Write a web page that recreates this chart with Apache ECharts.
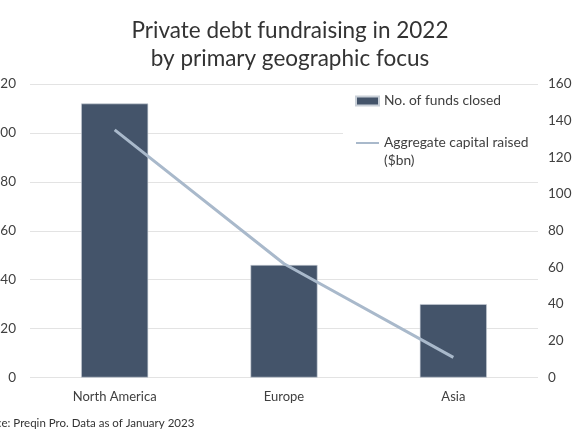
<!DOCTYPE html>
<html>
<head>
<meta charset="utf-8">
<script src="https://cdn.jsdelivr.net/npm/echarts@6/dist/echarts.min.js"></script>
<style>html,body{margin:0;padding:0;background:#fff;}#c{width:580px;height:435px;}</style>
</head>
<body>
<div id="c"></div>
<script>
var categories = ['North America', 'Europe', 'Asia'];
var fundsClosed = [112, 46, 30];
var capitalRaised = [135, 62, 11];
var leftTicks = [0, 20, 40, 60, 80, 100, 120];
var rightTicks = [0, 20, 40, 60, 80, 100, 120, 140, 160];
var titleLines = ['Private debt fundraising in 2022', 'by primary geographic focus'];
var sourceText = 'Source: Preqin Pro. Data as of January 2023';
var seriesNames = ['No. of funds closed', 'Aggregate capital raised\n($bn)'];

var FONT = 'Lato, "Noto Sans", sans-serif';
var chart = echarts.init(document.getElementById('c'), null, {renderer: 'canvas'});
chart.setOption({
  animation: false,
  backgroundColor: '#ffffff',
  title: {
    text: titleLines.join('\n'),
    left: 'center',
    top: 12,
    textStyle: {fontFamily: FONT, fontSize: 22.5, fontWeight: 'normal', color: '#333333', lineHeight: 28}
  },
  graphic: [{
    type: 'text',
    left: -27,
    top: 417,
    style: {text: sourceText, fontFamily: FONT, fontSize: 11.5, fill: '#333333'}
  }],
  legend: {
    orient: 'vertical',
    left: 343,
    top: 87,
    backgroundColor: '#ffffff',
    padding: [5, 20, 6, 12],
    itemGap: 6,
    itemWidth: 23,
    itemHeight: 9,
    textStyle: {fontFamily: FONT, fontSize: 13.8, color: '#404040', lineHeight: 18},
    formatter: function (name) { return name.indexOf('\n') >= 0 ? '\n' + name : name; },
    data: [
      {name: seriesNames[0], icon: 'rect'},
      {name: seriesNames[1], itemStyle: {opacity: 0}}
    ]
  },
  grid: {left: 30, right: 42, top: 84, bottom: 57.5, outerBoundsMode: 'none', containLabel: false},
  xAxis: {
    type: 'category',
    data: categories,
    axisLine: {show: false},
    axisTick: {show: false},
    axisLabel: {fontFamily: FONT, fontSize: 13, color: '#404040', margin: 13}
  },
  yAxis: [{
    type: 'value', min: 0, max: leftTicks[leftTicks.length - 1], interval: 20,
    axisLine: {show: false}, axisTick: {show: false},
    axisLabel: {fontFamily: FONT, fontSize: 13.5, color: '#404040', margin: 14},
    splitLine: {lineStyle: {color: '#e3e3e3', width: 1}}
  }, {
    type: 'value', min: 0, max: rightTicks[rightTicks.length - 1], interval: 20,
    axisLine: {show: false}, axisTick: {show: false},
    axisLabel: {fontFamily: FONT, fontSize: 13.5, color: '#404040', margin: 10},
    splitLine: {show: false}
  }],
  series: [{
    name: seriesNames[0],
    type: 'bar',
    data: fundsClosed,
    yAxisIndex: 0,
    barWidth: 67,
    itemStyle: {color: '#44546a', borderColor: '#c9d0d8', borderWidth: 0.6}
  }, {
    name: seriesNames[1],
    type: 'line',
    data: capitalRaised,
    yAxisIndex: 1,
    symbol: 'none',
    lineStyle: {color: '#a9b9cb', width: 3},
    itemStyle: {color: '#a9b9cb'},
    z: 3
  }]
});
</script>
</body>
</html>
